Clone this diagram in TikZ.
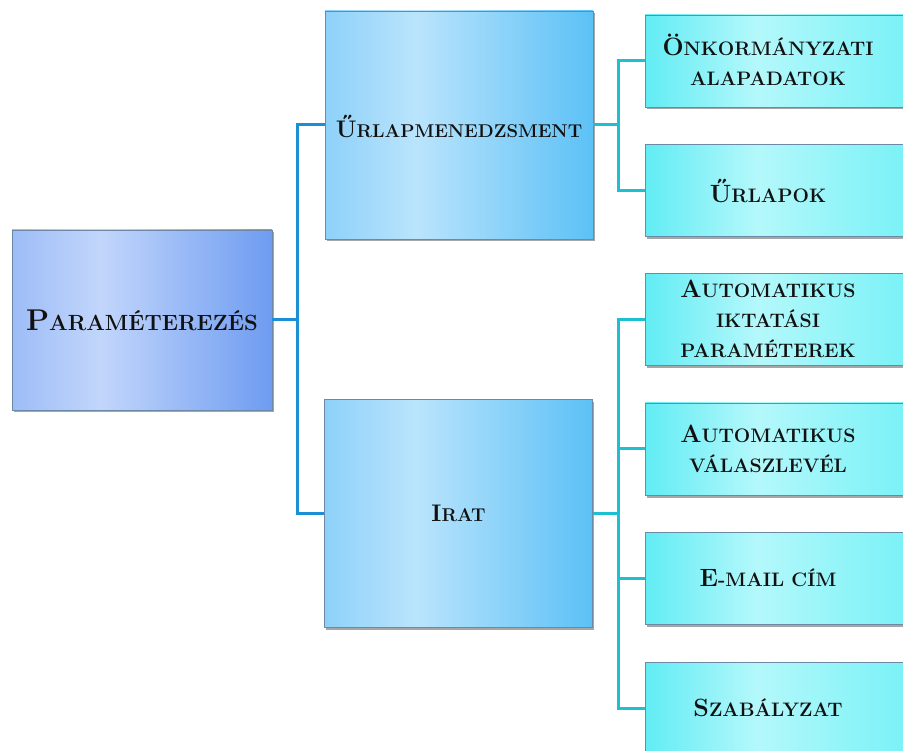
\documentclass[tikz,border=0pt]{standalone}
\usepackage{fontspec}
\usetikzlibrary{shadows}
\definecolor{rootL}{HTML}{9DBCF7}
\definecolor{rootM}{HTML}{C2D6FB}
\definecolor{rootR}{HTML}{6E9CF1}
\definecolor{midL}{HTML}{8ED1F9}
\definecolor{midM}{HTML}{BAE4FC}
\definecolor{midR}{HTML}{5CC1F6}
\definecolor{leafL}{HTML}{62ECF4}
\definecolor{leafM}{HTML}{B4F8FB}
\definecolor{leafR}{HTML}{72F1F6}
\definecolor{busA}{HTML}{1B8FD3}
\definecolor{busB}{HTML}{1DBFD0}
\definecolor{edge}{HTML}{6C8AA6}
\definecolor{ink}{HTML}{111111}
\pgfdeclarehorizontalshading{rootsh}{100bp}{color(0bp)=(rootL); color(25bp)=(rootL); color(42bp)=(rootM); color(75bp)=(rootR); color(100bp)=(rootR)}
\pgfdeclarehorizontalshading{midsh}{100bp}{color(0bp)=(midL); color(25bp)=(midL); color(42bp)=(midM); color(75bp)=(midR); color(100bp)=(midR)}
\pgfdeclarehorizontalshading{leafsh}{100bp}{color(0bp)=(leafL); color(25bp)=(leafL); color(45bp)=(leafM); color(75bp)=(leafR); color(100bp)=(leafR)}
\newcommand{\SCroot}[2]{{\fontsize{30}{34}\selectfont #1}{\fontsize{22}{34}\selectfont #2}}
\newcommand{\SCmid}[2]{{\fontsize{24}{30}\selectfont #1}{\fontsize{18.5}{30}\selectfont #2}}
\newcommand{\SCleaf}[2]{{\fontsize{25}{30}\selectfont #1}{\fontsize{19.5}{30}\selectfont #2}}
\tikzset{
  boxbase/.style={draw=edge, line width=0.6pt,
    drop shadow={shadow xshift=1.5pt, shadow yshift=-2.5pt, opacity=0.35, fill=black},
    inner sep=0pt},
  rootbox/.style={boxbase, shading=rootsh, minimum width=260pt, minimum height=180pt},
  midbox/.style={boxbase, shading=midsh, minimum width=268pt, minimum height=228pt},
  leafbox/.style={boxbase, shading=leafsh, minimum width=280pt, minimum height=92pt, anchor=west},
  lbl/.style={font=\fontsize{19.5}{30}\selectfont\bfseries, text=ink, align=center, inner sep=0pt},
  connA/.style={draw=busA, line width=3pt},
  connB/.style={draw=busB, line width=3pt},
}
\begin{document}
\begin{tikzpicture}[x=1pt, y=-1pt]
\useasboundingbox (0,0) rectangle (903,751);
\clip (0,0) rectangle (903,751);
\fill[white] (0,0) rectangle (903,751);
% bus points
\coordinate (b1) at (297,320);
\coordinate (b2) at (618,125);
\coordinate (b3) at (618,513.5);
% boxes
\node[rootbox] (root) at (142,320) {};
\node[lbl] (troot) at (root.center) {\SCroot{P}{ARAMÉTEREZÉS}};
\node[midbox] (urlap) at (459,125) {};
\node[lbl] (turlap) at ([yshift=-1pt]urlap.center) {\SCmid{Ű}{RLAPMENEDZSMENT}};
\node[midbox] (irat) at (458.5,513.5) {};
\node[lbl] (tirat) at (irat.center) {\SCmid{I}{RAT}};
\node[leafbox] (l1) at (645,61) {};
\node[leafbox] (l2) at (645,190.5) {};
\node[leafbox] (l3) at (645,319.5) {};
\node[leafbox] (l4) at (645,449) {};
\node[leafbox] (l5) at (645,578) {};
\node[leafbox] (l6) at (645,708) {};
\node[lbl] (t1) at ([xshift=123pt,yshift=1pt]l1.west) {\SCleaf{Ö}{NKORMÁNYZATI}\\\SCleaf{}{ALAPADATOK}};
\node[lbl] (t2) at ([xshift=123pt]l2.west) {\SCleaf{Ű}{RLAPOK}};
\node[lbl] (t3) at ([xshift=123pt,yshift=1pt]l3.west) {\SCleaf{A}{UTOMATIKUS}\\\SCleaf{}{IKTATÁSI}\\\SCleaf{}{PARAMÉTEREK}};
\node[lbl] (t4) at ([xshift=123pt]l4.west) {\SCleaf{A}{UTOMATIKUS}\\\SCleaf{}{VÁLASZLEVÉL}};
\node[lbl] (t5) at ([xshift=123pt]l5.west) {\SCleaf{E}{-MAIL CÍM}};
\node[lbl] (t6) at ([xshift=123pt]l6.west) {\SCleaf{S}{ZABÁLYZAT}};
% connectors
\path[connA] (root.east) -- (b1);
\path[connA] (urlap.west) -| (b1) |- (irat.west);
\path[connB] (urlap.east) -- (b2);
\path[connB] (l1.west) -| (b2) |- (l2.west);
\path[connB] (irat.east) -- (b3);
\path[connB] (l3.west) -| (b3) |- (l6.west);
\path[connB] (b3) |- (l4.west);
\path[connB] (b3) |- (l5.west);
\end{tikzpicture}
\end{document}
